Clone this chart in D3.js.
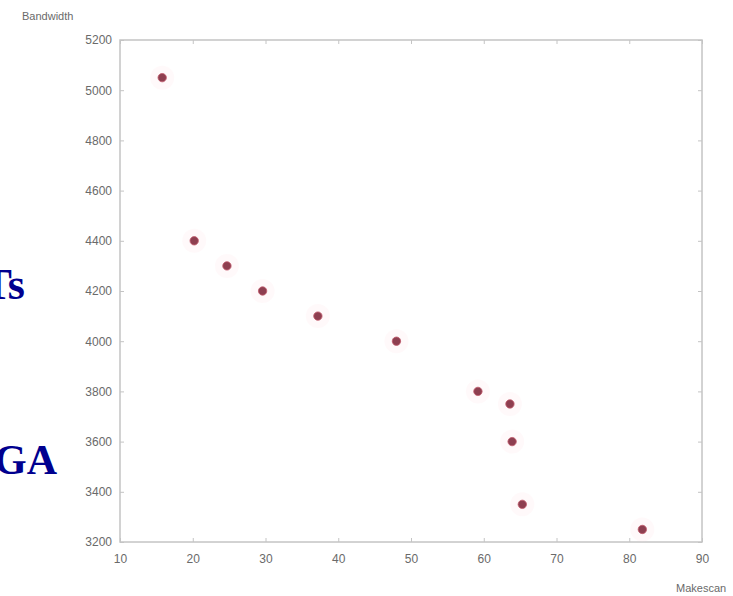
<!DOCTYPE html>
<html>
<head>
<meta charset="utf-8">
<script src="https://cdn.jsdelivr.net/npm/d3@7"></script>
<style>
  html, body { margin: 0; padding: 0; background: #fff; }
  svg { display: block; }
</style>
</head>
<body>
<svg id="chart" width="733" height="596"></svg>
<script>
const makescan = [15.8, 20.2, 24.7, 29.6, 37.2, 48.0, 59.2, 63.6, 63.9, 65.3, 81.8];
const bandwidth = [5050, 4400, 4300, 4200, 4100, 4000, 3800, 3750, 3600, 3350, 3250];
const xTicks = [10, 20, 30, 40, 50, 60, 70, 80, 90];
const yTicks = [3200, 3400, 3600, 3800, 4000, 4200, 4400, 4600, 4800, 5000, 5200];

const svg = d3.select("#chart");
const L = 120, R = 702, T = 40, B = 542;
const x = d3.scaleLinear().domain([10, 90]).range([L, R]);
const y = d3.scaleLinear().domain([3200, 5200]).range([B, T]);

const axisColor = "#c4c4c4";
const textColor = "#6a6a6a";

// Background fragments of slide text
svg.append("text").attr("x", 25).attr("y", 299).attr("text-anchor", "end")
  .attr("font-family", "Liberation Serif, Times New Roman, serif").attr("font-weight", "bold")
  .attr("font-size", 44).attr("fill", "#00008f").text("Ts");
svg.append("text").attr("x", 57).attr("y", 474).attr("text-anchor", "end")
  .attr("font-family", "Liberation Serif, Times New Roman, serif").attr("font-weight", "bold")
  .attr("font-size", 42).attr("fill", "#00008f").text("GA");

// Box
svg.append("rect").attr("x", L).attr("y", T).attr("width", R - L).attr("height", B - T)
  .attr("fill", "none").attr("stroke", axisColor).attr("stroke-width", 1.5);

// Axes via d3
const xAxisB = d3.axisBottom(x).tickValues(xTicks).tickSize(-4).tickPadding(12).tickFormat(d3.format("d"));
const gx = svg.append("g").attr("transform", `translate(0,${B})`).call(xAxisB);
const xAxisT = d3.axisTop(x).tickValues(xTicks).tickSize(-4).tickFormat("");
const gxt = svg.append("g").attr("transform", `translate(0,${T})`).call(xAxisT);
const yAxisL = d3.axisLeft(y).tickValues(yTicks).tickSize(-4).tickPadding(8).tickFormat(d3.format("d"));
const gy = svg.append("g").attr("transform", `translate(${L},0)`).call(yAxisL);
const yAxisR = d3.axisRight(y).tickValues(yTicks).tickSize(-4).tickFormat("");
const gyr = svg.append("g").attr("transform", `translate(${R},0)`).call(yAxisR);

[gx, gxt, gy, gyr].forEach(g => {
  g.select(".domain").remove();
  g.selectAll(".tick line").attr("stroke", axisColor);
  g.selectAll("text").attr("fill", textColor)
    .attr("font-family", "Liberation Sans, Arial, sans-serif").attr("font-size", 12);
});

// Axis titles
svg.append("text").attr("x", 22).attr("y", 20)
  .attr("font-family", "Liberation Sans, Arial, sans-serif").attr("font-size", 11)
  .attr("fill", textColor).text("Bandwidth");
svg.append("text").attr("x", 676).attr("y", 592)
  .attr("font-family", "Liberation Sans, Arial, sans-serif").attr("font-size", 11)
  .attr("fill", textColor).text("Makescan");

// Points
const pts = makescan.map((m, i) => ({ m, b: bandwidth[i] }));
svg.append("g").selectAll("circle.halo").data(pts).join("circle")
  .attr("cx", d => x(d.m)).attr("cy", d => y(d.b)).attr("r", 12)
  .attr("fill", "#ffdde6").attr("opacity", 0.18);
svg.append("g").selectAll("circle.pt").data(pts).join("circle")
  .attr("cx", d => x(d.m)).attr("cy", d => y(d.b)).attr("r", 4.2)
  .attr("fill", "#8e3f50").attr("stroke", "#c25a6c").attr("stroke-width", 0.8);
</script>
</body>
</html>
